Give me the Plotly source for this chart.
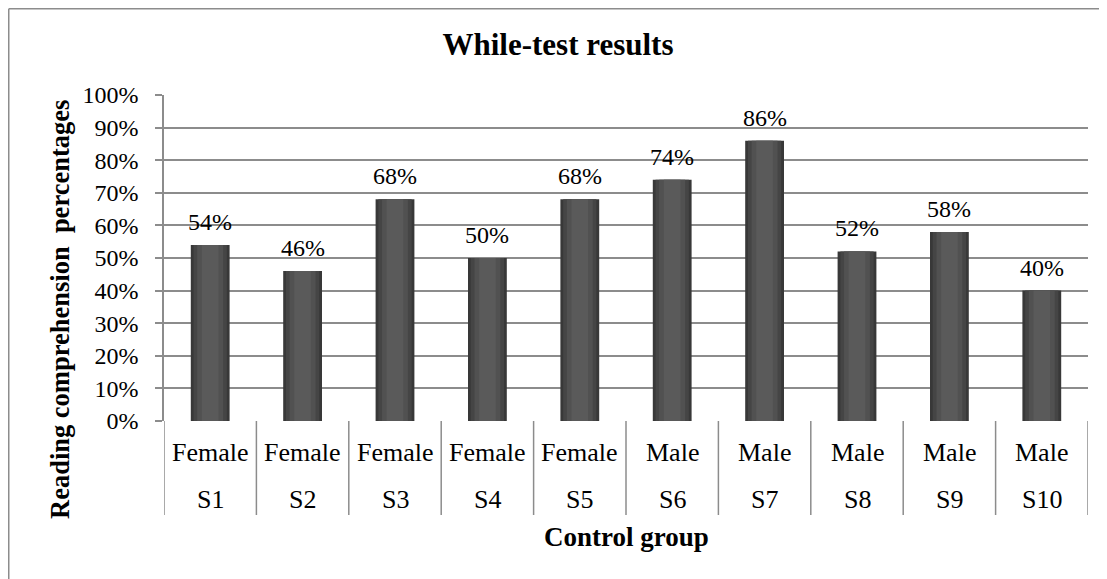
import plotly.graph_objects as go

# Datos del gráfico
estudiantes = ["S1", "S2", "S3", "S4", "S5", "S6", "S7", "S8", "S9", "S10"]
generos = ["Female", "Female", "Female", "Female", "Female", "Male", "Male", "Male", "Male", "Male"]
porcentajes = [54, 46, 68, 50, 68, 74, 86, 52, 58, 40]
ticks_y = [0, 10, 20, 30, 40, 50, 60, 70, 80, 90, 100]

FUENTE = "Liberation Serif"
GRIS = "#8c8c8c"
OFF = 8  # margen por defecto del <body>
W, H = 1107 - OFF, 579 - OFF
L, R, T, B = 164 - OFF, 19, 95 - OFF, 158
pw, ph = W - L - R, H - T - B

# coordenadas de la imagen de referencia -> coordenadas "paper"
def px_x(p):
    return (p - OFF - L) / pw

def px_y(p):
    return (H - B - (p - OFF)) / ph

pos = list(range(len(estudiantes)))

fig = go.Figure()
# capas superpuestas para simular el degradado de las barras
for ancho, color in [(0.42, "#383838"), (0.36, "#454545"), (0.28, "#515151"), (0.18, "#5a5a5a")]:
    fig.add_trace(go.Bar(
        x=pos, y=porcentajes, width=ancho,
        marker=dict(color=color, line=dict(width=0)),
        hoverinfo="skip",
    ))

shapes = []
annotations = []
# etiquetas de datos
for i, v in enumerate(porcentajes):
    annotations.append(dict(x=i, y=v, xref="x", yref="y", text=f"{v}%",
                            showarrow=False, yanchor="middle", yshift=23,
                            font=dict(family=FUENTE, size=24, color="black")))
# divisiones de categorías
for i in range(len(estudiantes) + 1):
    shapes.append(dict(type="line", xref="x", yref="paper",
                       x0=i - 0.5, x1=i - 0.5, y0=0, y1=px_y(515),
                       line=dict(color=GRIS, width=1.5)))
for i, (g, s) in enumerate(zip(generos, estudiantes)):
    annotations.append(dict(x=i, y=px_y(452), xref="x", yref="paper", text=g,
                            showarrow=False, yanchor="middle",
                            font=dict(family=FUENTE, size=26, color="black")))
    annotations.append(dict(x=i, y=px_y(499), xref="x", yref="paper", text=s,
                            showarrow=False, yanchor="middle",
                            font=dict(family=FUENTE, size=26, color="black")))

# títulos de ejes
annotations.append(dict(x=px_x(626), y=px_y(537), xref="paper", yref="paper",
                        text="<b>Control group</b>", showarrow=False, yanchor="middle",
                        font=dict(family=FUENTE, size=27, color="black")))
annotations.append(dict(x=px_x(60), y=px_y(310), xref="paper", yref="paper",
                        text="<b>Reading comprehension  percentages</b>", showarrow=False,
                        textangle=-90, xanchor="center", yanchor="middle",
                        font=dict(family=FUENTE, size=26.5, color="black")))

# borde exterior (solo superior e izquierdo visibles)
shapes.append(dict(type="line", xref="paper", yref="paper",
                   x0=px_x(OFF + 0.75), x1=px_x(1115), y0=px_y(OFF + 0.75), y1=px_y(OFF + 0.75),
                   line=dict(color=GRIS, width=1.5)))
shapes.append(dict(type="line", xref="paper", yref="paper",
                   x0=px_x(OFF + 0.75), x1=px_x(OFF + 0.75), y0=px_y(OFF + 0.75), y1=px_y(590),
                   line=dict(color=GRIS, width=1.5)))

fig.update_layout(
    width=W, height=H,
    margin=dict(l=L, r=R, t=T, b=B),
    paper_bgcolor="white", plot_bgcolor="white",
    barmode="overlay", showlegend=False,
    title=dict(text="<b>While-test results</b>", x=(558 - OFF) / W,
               xanchor="center", y=1 - (44 - OFF) / H, yanchor="middle",
               font=dict(family=FUENTE, size=31, color="black")),
    shapes=shapes, annotations=annotations,
)
fig.update_xaxes(range=[-0.5, len(estudiantes) - 0.5], showticklabels=False,
                 showgrid=False, zeroline=False, showline=False, fixedrange=True)
fig.update_yaxes(range=[0, 100], tickvals=ticks_y, ticktext=[f"{t}%" for t in ticks_y],
                 showgrid=True, gridcolor=GRIS, gridwidth=1.5,
                 showline=True, linecolor=GRIS, linewidth=1.5,
                 ticks="outside", ticklen=7, tickcolor=GRIS, tickwidth=1.5,
                 zeroline=False, ticklabelstandoff=12,
                 tickfont=dict(family=FUENTE, size=24, color="black"))

fig.write_html("out.html")
